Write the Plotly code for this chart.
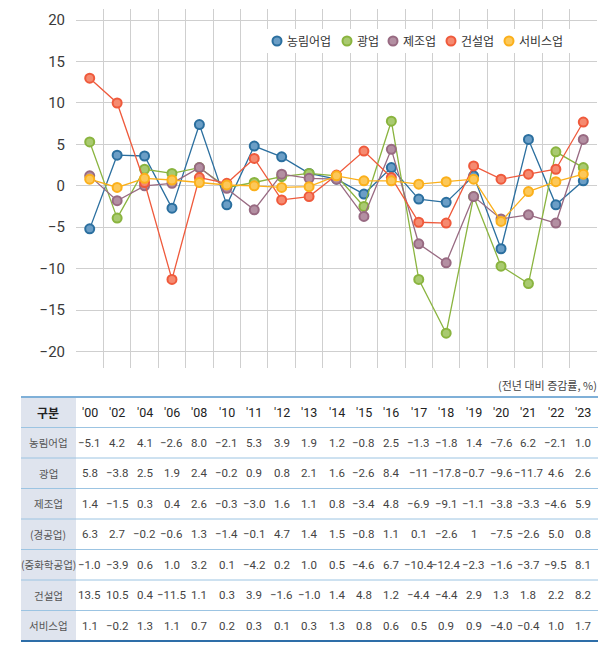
import plotly.graph_objects as go

# ---------------- data ----------------
years = ["'00", "'02", "'04", "'06", "'08", "'10", "'11", "'12", "'13", "'14",
         "'15", "'16", "'17", "'18", "'19", "'20", "'21", "'22", "'23"]

series_names = ["농림어업", "광업", "제조업", "건설업", "서비스업"]

# values as plotted in the line chart
chart_agri = [-5.2, 3.7, 3.6, -2.7, 7.4, -2.3, 4.8, 3.5, 1.5, 0.8, -1.0, 2.2, -1.6, -2.0, 1.2, -7.6, 5.6, -2.3, 0.6]
chart_mining = [5.3, -3.9, 2.0, 1.5, 2.2, -0.2, 0.4, 1.1, 1.5, 1.2, -2.5, 7.8, -11.3, -17.8, -1.3, -9.7, -11.8, 4.1, 2.2]
chart_manuf = [1.2, -1.8, 0.0, 0.3, 2.2, -0.3, -2.9, 1.4, 0.9, 0.8, -3.7, 4.4, -7.0, -9.3, -1.3, -4.0, -3.5, -4.5, 5.6]
chart_constr = [13.0, 10.0, 0.4, -11.3, 1.0, 0.3, 3.3, -1.7, -1.3, 1.3, 4.2, 1.0, -4.4, -4.5, 2.4, 0.8, 1.4, 2.0, 7.7]
chart_service = [0.8, -0.2, 0.9, 0.7, 0.4, 0.1, 0.0, -0.2, -0.1, 1.2, 0.6, 0.6, 0.2, 0.5, 0.8, -4.3, -0.7, 0.5, 1.4]

y_ticks = [-20, -15, -10, -5, 0, 5, 10, 15, 20]

# table (text exactly as printed)
table_header = "구분"
table_unit = "(전년 대비 증감률, %)"
table_rows = ["농림어업", "광업", "제조업", "(경공업)", "(중화학공업)", "건설업", "서비스업"]
tbl_agri = ["-5.1", "4.2", "4.1", "-2.6", "8.0", "-2.1", "5.3", "3.9", "1.9", "1.2", "-0.8", "2.5", "-1.3", "-1.8", "1.4", "-7.6", "6.2", "-2.1", "1.0"]
tbl_mining = ["5.8", "-3.8", "2.5", "1.9", "2.4", "-0.2", "0.9", "0.8", "2.1", "1.6", "-2.6", "8.4", "-11", "-17.8", "-0.7", "-9.6", "-11.7", "4.6", "2.6"]
tbl_manuf = ["1.4", "-1.5", "0.3", "0.4", "2.6", "-0.3", "-3.0", "1.6", "1.1", "0.8", "-3.4", "4.8", "-6.9", "-9.1", "-1.1", "-3.8", "-3.3", "-4.6", "5.9"]
tbl_light = ["6.3", "2.7", "-0.2", "-0.6", "1.3", "-1.4", "-0.1", "4.7", "1.4", "1.5", "-0.8", "1.1", "0.1", "-2.6", "1", "-7.5", "-2.6", "5.0", "0.8"]
tbl_heavy = ["-1.0", "-3.9", "0.6", "1.0", "3.2", "0.1", "-4.2", "0.2", "1.0", "0.5", "-4.6", "6.7", "-10.4", "-12.4", "-2.3", "-1.6", "-3.7", "-9.5", "8.1"]
tbl_constr = ["13.5", "10.5", "0.4", "-11.5", "1.1", "0.3", "3.9", "-1.6", "-1.0", "1.4", "4.8", "1.2", "-4.4", "-4.4", "2.9", "1.3", "1.8", "2.2", "8.2"]
tbl_service = ["1.1", "-0.2", "1.3", "1.1", "0.7", "0.2", "0.3", "0.1", "0.3", "1.3", "0.8", "0.6", "0.5", "0.9", "0.9", "-4.0", "-0.4", "1.0", "1.7"]

# ---------------- style ----------------
W, H = 605, 645
line_colors = ["#2b6f9f", "#8ab43f", "#986a82", "#ef5a3c", "#fbb01b"]
fill_colors = ["#6b9ec6", "#a9ca70", "#b38fa2", "#f58a70", "#fcc85a"]
KR = "Noto Sans CJK KR"
NUM = "Roboto"


def py(px):  # pixel from top -> paper y
    return 1 - px / H


def pxx(px):  # pixel from left -> paper x
    return px / W


chart_series = [chart_agri, chart_mining, chart_manuf, chart_constr, chart_service]
xs = list(range(len(years)))

fig = go.Figure()
for name, vals, lc, fc in zip(series_names, chart_series, line_colors, fill_colors):
    fig.add_trace(go.Scatter(
        x=xs, y=vals, name=name, mode="lines+markers", showlegend=False,
        line=dict(color=lc, width=1.3),
        marker=dict(size=9, color=fc, line=dict(color=lc, width=2)),
    ))

plot_left, plot_right = 76, 597
plot_top, plot_bottom = 9, 368

fig.update_layout(
    width=W, height=H,
    margin=dict(l=0, r=0, t=0, b=0),
    paper_bgcolor="white", plot_bgcolor="white",
    font=dict(family=KR, color="#333"),
    showlegend=False,
    xaxis=dict(
        domain=[pxx(plot_left), pxx(plot_right)],
        range=[-0.5, len(years) - 0.5],
        tickvals=[i + 0.5 for i in range(len(years) - 1)],
        showticklabels=False, ticks="",
        showgrid=True, gridcolor="#cfcfcf", gridwidth=1,
        zeroline=False, showline=False,
    ),
    yaxis=dict(
        domain=[py(plot_bottom), py(plot_top)],
        range=[-22.0, 21.35],
        tickvals=y_ticks,
        tickfont=dict(family=NUM, size=15, color="#3a3a3a"),
        ticklabelstandoff=10,
        showgrid=True, gridcolor="#cfcfcf", gridwidth=1,
        zeroline=False, showline=False, ticks="",
    ),
)

shapes = []
annotations = []

# ---------------- legend (marker + name, compact like the reference) ----------------
leg_font = 12
leg_y = 41
leg_right = 566
item_w = [10 + 4 + len(n) * leg_font for n in series_names]
leg_start = leg_right - (sum(item_w) + 8 * (len(series_names) - 1))
shapes.append(dict(type="rect", xref="paper", yref="paper", layer="above",
                   x0=pxx(leg_start - 5), x1=pxx(leg_right + 5), y0=py(leg_y + 12), y1=py(leg_y - 12),
                   fillcolor="white", line=dict(width=0)))
x = leg_start
for name, lc, fc, w in zip(series_names, line_colors, fill_colors, item_w):
    cx = x + 5
    shapes.append(dict(type="circle", xref="paper", yref="paper", layer="above",
                       x0=pxx(cx - 4.5), x1=pxx(cx + 4.5), y0=py(leg_y + 4.5), y1=py(leg_y - 4.5),
                       fillcolor=fc, line=dict(color=lc, width=2)))
    annotations.append(dict(text=name, xref="paper", yref="paper", x=pxx(x + 13), y=py(leg_y),
                            xanchor="left", yanchor="middle", showarrow=False,
                            font=dict(family=KR, size=leg_font, color="#333")))
    x += w + 8

# ---------------- table ----------------
tbl_top = 397
row_h = 30.5
n_rows = len(table_rows) + 1
tbl_bottom = tbl_top + row_h * n_rows
tbl_left, tbl_right = 21, 598
label_right = 76

shapes.append(dict(type="rect", xref="paper", yref="paper",
                   x0=pxx(tbl_left), x1=pxx(label_right), y0=py(tbl_bottom), y1=py(tbl_top),
                   fillcolor="#dfe4ee", line=dict(width=0), layer="below"))
for k in range(n_rows + 1):
    yk = tbl_top + row_h * k
    if k == 0:
        col, wd = "#7fb0d8", 2
    elif k == n_rows:
        col, wd = "#2e6ea8", 2
    else:
        col, wd = "#9cc4e2", 1
    shapes.append(dict(type="line", xref="paper", yref="paper",
                       x0=pxx(tbl_left), x1=pxx(tbl_right), y0=py(yk), y1=py(yk),
                       line=dict(color=col, width=wd)))

label_cx = pxx((tbl_left + label_right) / 2)
annotations.append(dict(text=table_unit, xref="paper", yref="paper", x=pxx(599), y=py(385),
                        xanchor="right", yanchor="middle", showarrow=False,
                        font=dict(family=KR, size=11, color="#444")))
hy = py(tbl_top + row_h / 2)
annotations.append(dict(text="<b>" + table_header + "</b>", xref="paper", yref="paper",
                        x=label_cx, y=hy, xanchor="center", yanchor="middle", showarrow=False,
                        font=dict(family=KR, size=12, color="#222")))
for i, yr in enumerate(years):
    annotations.append(dict(text=yr, xref="x", yref="paper", x=i, y=hy,
                            xanchor="center", yanchor="middle", showarrow=False,
                            font=dict(family=NUM, size=12.5, color="#222")))

table_vals = [tbl_agri, tbl_mining, tbl_manuf, tbl_light, tbl_heavy, tbl_constr, tbl_service]
for r, (lab, vals) in enumerate(zip(table_rows, table_vals)):
    yc = py(tbl_top + row_h * (r + 1) + row_h / 2)
    annotations.append(dict(text=lab, xref="paper", yref="paper", x=label_cx, y=yc,
                            xanchor="center", yanchor="middle",
                            showarrow=False, font=dict(family=KR, size=10.5, color="#555")))
    for i, v in enumerate(vals):
        annotations.append(dict(text=v.replace("-", "\u2212"), xref="x", yref="paper", x=i, y=yc,
                                xanchor="center", yanchor="middle",
                                showarrow=False, font=dict(family=NUM, size=11.5, color="#444")))

fig.update_layout(shapes=shapes, annotations=annotations)
fig.write_html("out.html", config={"displayModeBar": False},
               post_script="document.body.style.margin='0';document.body.style.overflow='hidden';")
